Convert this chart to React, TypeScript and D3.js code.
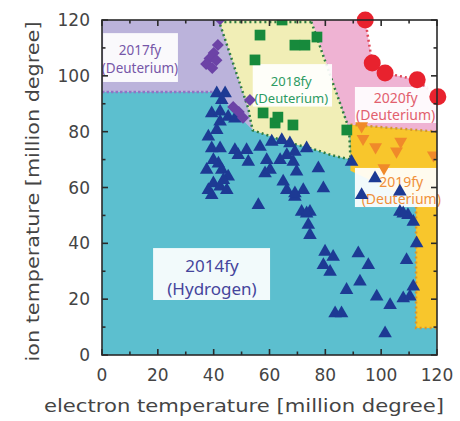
import React from "react";
import * as d3 from "d3";

// ---------- data (million degree) ----------
const xTicks = [0, 20, 40, 60, 80, 100, 120];
const yTicks = [0, 20, 40, 60, 80, 100, 120];

// 2014fy hydrogen (blue triangles)
const hydrogen2014: [number, number][] = [
  [41.1, 93.7], [44.1, 93.7], [42.9, 91.3], [39.3, 86.6], [42.3, 87.2], [45.2, 85.3], [47.6, 84.7],
  [41.1, 80.6], [38.1, 78.2], [42.3, 83.6], [39.3, 74], [42.3, 74], [47.6, 73.4], [51.8, 73.4],
  [56.6, 74.6], [60.8, 76.4], [64.4, 77], [67.3, 75.8], [69.1, 72.8], [48.8, 71.6], [52.4, 69.2],
  [59, 69.8], [63.8, 69.8], [66.2, 71.6], [41.7, 68.6], [42.9, 66.3], [39.9, 69.8], [45.2, 63.9],
  [39.9, 61.5], [42.3, 60.3], [38.1, 59.1], [44.7, 59.1], [39.3, 57.3], [37.5, 66.3], [43.5, 62.7],
  [58.4, 65.1], [60.2, 66.3], [64.9, 62.1], [66.2, 59.1], [69.1, 56.7], [56, 53.7],
  [73.3, 74], [77.5, 66.9], [89.4, 69.2], [69.7, 65.7], [68.5, 69.2], [79.3, 59.7], [72.1, 59.1],
  [69.1, 57.9], [71.5, 51.3], [74.5, 51.3], [97.8, 63.3], [93, 57.3], [106.7, 58.5], [106.7, 51.3],
  [109.6, 50.1], [73.3, 50.7], [73.9, 46.6], [74.5, 43], [79.9, 37], [82.8, 35.2], [79.3, 32.2],
  [81.7, 29.8], [91.8, 36.4], [95.4, 32.2], [92.4, 26.3], [87.6, 23.3], [83.5, 14.9], [85.8, 14.9],
  [98.4, 20.9], [103.2, 17.9], [107.9, 20.3], [110.3, 20.9], [111.5, 24.5], [109.1, 34],
  [112.7, 40], [111.5, 47.7], [107.9, 50.7], [101.4, 7.8],
];

// 2017fy deuterium (purple diamonds)
const deuterium2017: [number, number][] = [
  [42.3, 120.3], [41.5, 111], [40, 108.2], [38.5, 106.2], [41, 105.6], [37.3, 104.2], [39.5, 102.8],
  [53, 91.3], [47, 88.8], [49, 87], [50.5, 85],
];

// 2018fy deuterium (green squares)
const deuterium2018: [number, number][] = [
  [64.5, 120], [56.6, 114.6], [54.8, 105.7], [69.1, 111], [72.7, 111], [77, 113.9],
  [57.7, 86.7], [62, 83.1], [63, 85.2], [68.4, 82.4], [87.7, 80.6],
];

// 2019fy deuterium (orange inverted triangles)
const deuterium2019: [number, number][] = [
  [93, 82], [93.5, 77.5], [98, 74.5], [105.5, 73], [107, 76.5], [101, 67], [118.7, 71.6],
];

// 2020fy deuterium (red circles)
const deuterium2020: [number, number][] = [
  [94.3, 120], [96.8, 104.6], [101.4, 101], [112.9, 98.6], [120.3, 92.5],
];

// regions
const regionHydrogen: [number, number][] = [[0, 0], [120, 0], [120, 94.2], [0, 94.2]];
const region2017: [number, number][] = [[0, 120], [42, 120], [52.5, 88], [53, 85], [54, 80.5], [40.5, 94.2], [0, 94.2]];
const region2018: [number, number][] = [
  [42, 120], [75, 120], [88.5, 81], [89, 70], [82.5, 71.5], [75, 74], [67, 76], [59, 78.8], [54, 80.5], [53, 85], [52.5, 88],
];
const region2020: [number, number][] = [
  [75, 120], [94.3, 120], [96.8, 104.6], [101.4, 101], [112.9, 98.6], [120, 92.5], [120, 80], [89, 82.5], [88.5, 81],
];
const region2019: [number, number][] = [
  [89, 82.5], [120, 80], [120, 9.7], [112.5, 9.7], [112.5, 55], [89, 66], [89, 70],
];

// boundary lines
const line2017: [number, number][] = [[0, 94.2], [40.5, 94.2]];
const line2018: [number, number][] = [
  [75, 119.3], [42, 119.3], [52.5, 88], [53, 85], [54, 80.5], [59, 78.8], [67, 76], [75, 74], [82.5, 71.5], [89, 70], [88.5, 81], [75, 119.3],
];
const line2020: [number, number][] = [[94.3, 120], [96.8, 104.6], [101.4, 101], [112.9, 98.6], [120, 92.5]];
const line2019a: [number, number][] = [[89, 82.5], [120, 80]];
const line2019b: [number, number][] = [[112.5, 55], [112.5, 9.7], [120, 9.7]];

// label boxes: [x0, x1, y0, y1]
const labels = [
  { box: [0.4, 27.2, 97.8, 115.3], lines: ["2017fy", "(Deuterium)"], cx: 13.6, ys: [109.2, 102.8], size: 13.5, color: "#7656a8" },
  { box: [54, 82.4, 89, 104.2], lines: ["2018fy", "(Deuterium)"], cx: 67.8, ys: [98.2, 92.1], size: 13, color: "#2c9a62" },
  { box: [90.6, 120, 83.1, 96], lines: ["2020fy", "(Deuterium)"], cx: 105.2, ys: [92.4, 86], size: 14, color: "#e2606e" },
  { box: [90.6, 120, 53, 67], lines: ["2019fy", "(Deuterium)"], cx: 107.2, ys: [62.3, 55.9], size: 14, color: "#f0903a" },
  { box: [18.3, 60.2, 19.7, 38.3], lines: ["2014fy", "(Hydrogen)"], cx: 39.4, ys: [32.2, 24], size: 17, color: "#45459c" },
];

const W = 460;
const H = 421;

export default function App() {
  const x = d3.scaleLinear().domain([0, 120]).range([102, 437]);
  const y = d3.scaleLinear().domain([0, 120]).range([355, 20]);
  const line = d3.line<[number, number]>().x((d) => x(d[0])).y((d) => y(d[1]));
  const poly = (p: [number, number][]) => line(p) + "Z";

  const tri = d3.symbol().type(d3.symbolTriangle).size(80)()!;
  const sq = d3.symbol().type(d3.symbolSquare).size(115)()!;
  const dia = d3.symbol().type(d3.symbolSquare).size(72)()!;
  const itri = d3.symbol().type(d3.symbolTriangle).size(72)()!;

  const minor = d3.range(0, 121, 10);
  const font = "'Noto Sans', 'DejaVu Sans', sans-serif";
  const axisFont = "'DejaVu Sans', sans-serif";

  return (
    <svg width={W} height={H} style={{ position: "absolute", left: 0, top: 0, background: "#fff" }} fontFamily={font}>
      <defs>
        <clipPath id="plot">
          <rect x={x(0)} y={y(120)} width={x(120) - x(0)} height={y(0) - y(120)} />
        </clipPath>
      </defs>
      <g clipPath="url(#plot)">
        <path d={poly(regionHydrogen)} fill="#5cbfcf" />
        <path d={poly(region2017)} fill="#bbb3db" />
        <path d={poly(region2018)} fill="#f1eeb6" />
        <path d={poly(region2020)} fill="#efb3d3" />
        <path d={poly(region2019)} fill="#f8c62c" />
        <path d={line(line2017)!} fill="none" stroke="#8f74c4" strokeWidth={2.5} strokeDasharray="2.5,2" />
        <path d={line(line2018)!} fill="none" stroke="#2f7d40" strokeWidth={2.5} strokeDasharray="2,3" />
        <path d={line(line2020)!} fill="none" stroke="#e04858" strokeWidth={2.5} strokeDasharray="2,3" />
        <path d={line(line2019a)!} fill="none" stroke="#d7962a" strokeWidth={2.5} strokeDasharray="2,3" />
        <path d={line(line2019b)!} fill="none" stroke="#d7962a" strokeWidth={2.5} strokeDasharray="2,3" />
      </g>

      {labels.map((l, i) => (
        <g key={i}>
          <rect
            x={x(l.box[0])}
            y={y(Math.max(l.box[2], l.box[3]))}
            width={x(l.box[1]) - x(l.box[0])}
            height={Math.abs(y(l.box[2]) - y(l.box[3]))}
            fill="#ffffff"
            fillOpacity={0.92}
          />
          {l.lines.map((t, j) => (
            <text key={j} x={x(l.cx)} y={y(l.ys[j])} textAnchor="middle" dominantBaseline="central" fontSize={l.size} fill={l.color}>
              {t}
            </text>
          ))}
        </g>
      ))}

      <g clipPath="url(#plot)">
        {hydrogen2014.map((d, i) => (
          <path key={i} d={tri} transform={`translate(${x(d[0])},${y(d[1])})`} fill="#1d3a94" />
        ))}
        {deuterium2017.map((d, i) => (
          <path key={i} d={dia} transform={`translate(${x(d[0])},${y(d[1])}) rotate(45)`} fill="#6c43a6" />
        ))}
        {deuterium2018.map((d, i) => (
          <path key={i} d={sq} transform={`translate(${x(d[0])},${y(d[1])})`} fill="#178a3c" />
        ))}
        {deuterium2019.map((d, i) => (
          <path key={i} d={itri} transform={`translate(${x(d[0])},${y(d[1])}) rotate(180)`} fill="#f08a2a" />
        ))}
      </g>
      {deuterium2020.map((d, i) => (
        <circle key={i} cx={x(d[0])} cy={y(d[1])} r={8.5} fill="#e8222e" />
      ))}

      {/* frame */}
      <rect x={x(0)} y={y(120)} width={x(120) - x(0)} height={y(0) - y(120)} fill="none" stroke="#2a2a2a" strokeWidth={1.6} />
      {/* ticks inward on all sides */}
      {minor.map((v) => {
        const len = v % 20 === 0 ? 6 : 3.5;
        return (
          <g key={v} stroke="#2a2a2a" strokeWidth={1.6}>
            <line x1={x(v)} x2={x(v)} y1={y(0)} y2={y(0) - len} />
            <line x1={x(v)} x2={x(v)} y1={y(120)} y2={y(120) + len} />
            <line x1={x(0)} x2={x(0) + len} y1={y(v)} y2={y(v)} />
            <line x1={x(120)} x2={x(120) - len} y1={y(v)} y2={y(v)} />
          </g>
        );
      })}
      {xTicks.map((v) => (
        <text key={v} x={x(v)} y={381} textAnchor="middle" fontSize={17} fill="#444" fontFamily={axisFont}>
          {v}
        </text>
      ))}
      {yTicks.map((v) => (
        <text key={v} x={90} y={y(v)} textAnchor="end" dominantBaseline="central" fontSize={17} fill="#444" fontFamily={axisFont}>
          {v}
        </text>
      ))}
      <text x={244} y={412} textAnchor="middle" fontSize={18.5} fill="#444" fontFamily={axisFont} textLength={400} lengthAdjust="spacingAndGlyphs">
        electron temperature [million degree]
      </text>
      <text transform={`translate(39,${(y(0) + y(120)) / 2 + 4}) rotate(-90)`} textAnchor="middle" fontSize={18.5} fill="#444" fontFamily={axisFont} textLength={340} lengthAdjust="spacingAndGlyphs">
        ion temperature [million degree]
      </text>
    </svg>
  );
}
